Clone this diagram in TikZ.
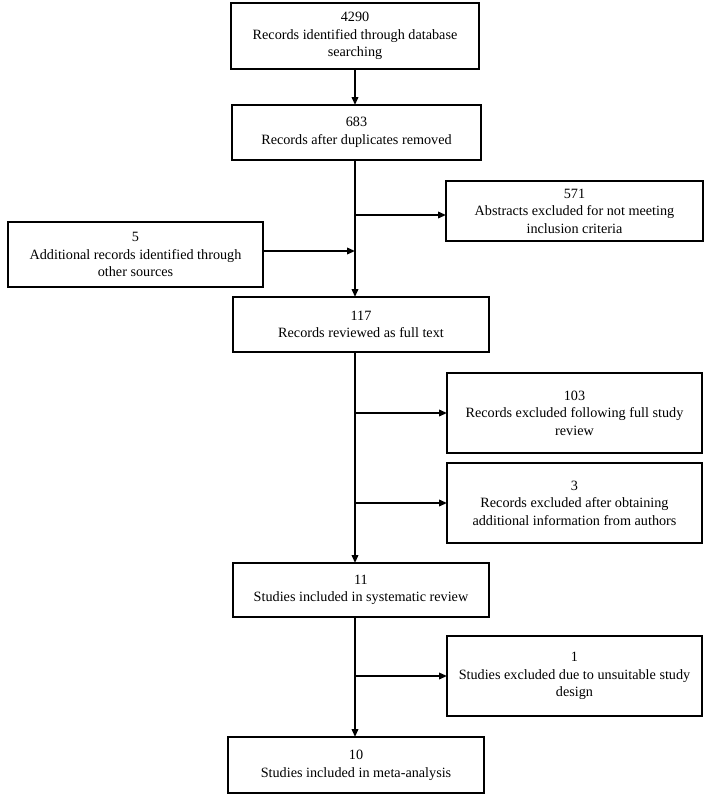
\documentclass[tikz,border=0pt]{standalone}
\usepackage{fontspec}
\setmainfont{Liberation Serif}
\usetikzlibrary{arrows.meta}
\begin{document}
\begin{tikzpicture}[x=1pt,y=-1pt,
  box/.style={draw=black, line width=1.5pt, fill=white, anchor=north west, inner sep=0pt, outer sep=0pt,
    align=center, font=\fontsize{14.2}{17.6}\selectfont},
  arr/.style={line width=1.9pt, -{Triangle[length=8pt,width=6.5pt]}}]
\useasboundingbox[fill=white] (0,0) rectangle (709,801);
\coordinate (spine) at (355,0);
\node[box, minimum width=248pt, minimum height=66pt] (a) at (231,3) {4290\\Records identified through database\\searching};
\node[box, minimum width=249pt, minimum height=55pt] (b) at (232,105) {683\\Records after duplicates removed};
\node[box, minimum width=257pt, minimum height=60pt] (c) at (446,181) {571\\Abstracts excluded for not meeting\\inclusion criteria};
\node[box, minimum width=255pt, minimum height=65pt] (d) at (8,222) {5\\Additional records identified through\\other sources};
\node[box, minimum width=256pt, minimum height=55pt] (e) at (233,297) {117\\Records reviewed as full text};
\node[box, minimum width=255pt, minimum height=80pt] (r1) at (447,373) {103\\Records excluded following full study\\review};
\node[box, minimum width=255pt, minimum height=80pt] (r2) at (447,463) {3\\Records excluded after obtaining\\additional information from authors};
\node[box, minimum width=256pt, minimum height=54pt] (f) at (233,563) {11\\Studies included in systematic review};
\node[box, minimum width=255pt, minimum height=80pt] (r3) at (447,636) {1\\Studies excluded due to unsuitable study\\design};
\node[box, minimum width=256pt, minimum height=56pt] (g) at (228,737) {10\\Studies included in meta-analysis};
% connectors
\coordinate (cw) at ([yshift=-4pt]c.west);
\coordinate (de) at ([yshift=3.5pt]d.east);
\draw[arr] (a.south -| spine) -- (b.north -| spine);
\draw[arr] (b.south -| spine) -- (e.north -| spine);
\draw[arr] (cw -| spine) -- (cw);
\draw[arr] (de) -- (de -| spine);
\draw[arr] (e.south -| spine) -- (f.north -| spine);
\draw[arr] (r1.west -| spine) -- (r1.west);
\draw[arr] (r2.west -| spine) -- (r2.west);
\draw[arr] (f.south -| spine) -- (g.north -| spine);
\draw[arr] (r3.west -| spine) -- (r3.west);
\end{tikzpicture}
\end{document}
